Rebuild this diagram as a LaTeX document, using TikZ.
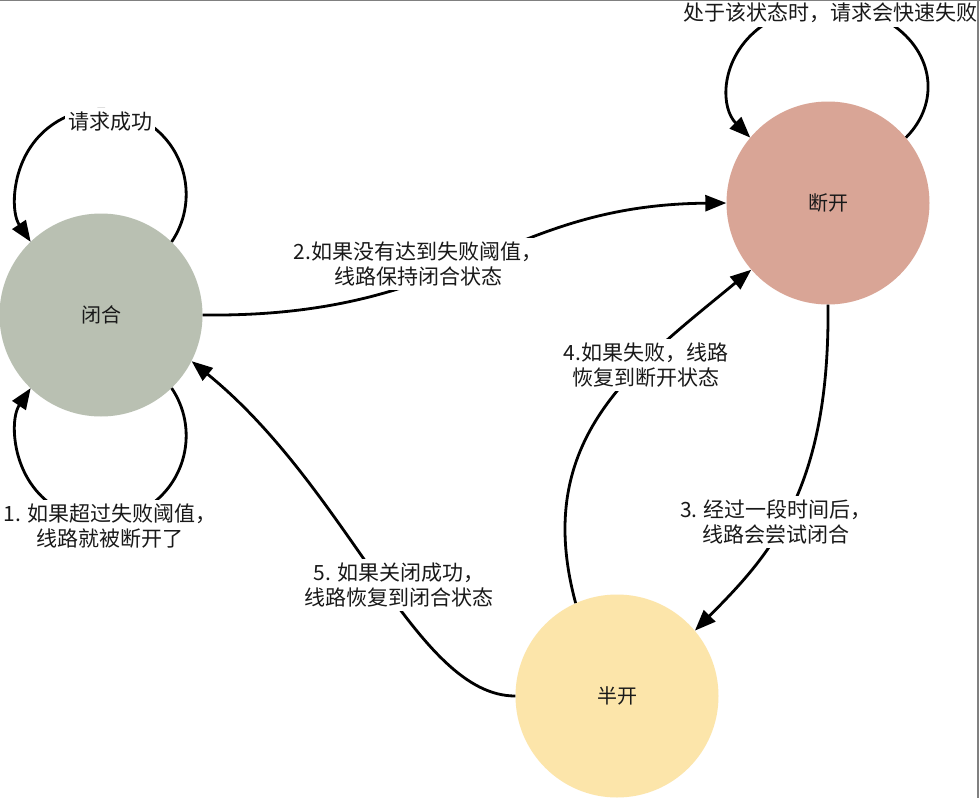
\documentclass[tikz,border=0pt]{standalone}
\usepackage{fontspec}
\setmainfont{Noto Sans CJK SC}
\usetikzlibrary{arrows.meta}
\definecolor{closedc}{RGB}{185,192,178}
\definecolor{openc}{RGB}{217,165,150}
\definecolor{halfc}{RGB}{252,229,170}
\definecolor{framec}{RGB}{128,128,128}
\definecolor{inkc}{RGB}{25,25,25}
\begin{document}
\begin{tikzpicture}[x=1pt,y=1pt,
  state/.style={circle, minimum size=203pt, inner sep=0pt, text=inkc, font=\fontsize{20}{24}\selectfont},
  lbl/.style={fill=white, align=center, inner xsep=3pt, inner ysep=4pt, text=inkc, font=\fontsize{21}{25}\selectfont},
  conn/.style={line width=2.8pt, draw=black, -{Triangle[length=21pt,width=16pt]}}]
\useasboundingbox (0,0) rectangle (980,-798);
\fill[white] (0,0) rectangle (980,-798);
% states
\node[state, fill=closedc] (closed) at (101,-315) {闭合};
\node[state, fill=openc] (open) at (828,-203) {断开};
\node[state, fill=halfc] (half) at (617,-696) {半开};
% connectors
\draw[conn] (closed.46) arc[start angle=-34, end angle=214, radius=85];
\draw[conn] (closed.-46) arc[start angle=34, end angle=-214, radius=85];
\draw[conn] (open.40) arc[start angle=-38.9, end angle=218.9, x radius=100, y radius=81];
\draw[conn] (closed.east) .. controls (460,-318) and (500,-205) .. (open.west);
\draw[conn] (open.south) .. controls (830,-490) and (770,-555) .. (half.40);
\draw[conn] (half.114) .. controls (531,-438) and (635,-366) .. (open.221);
\draw[conn] (half.west) .. controls (416,-696) and (350,-490) .. (closed.-27);
% labels
\node[lbl] (l0) at (110,-122) {请求成功};
\node[lbl] (l1) at (110,-526) {1. 如果超过失败阈值，\\线路就被断开了};
\node[lbl] (l2) at (418,-264) {2.如果没有达到失败阈值，\\线路保持闭合状态};
\node[lbl] (l3) at (776,-522) {3. 经过一段时间后，\\线路会尝试闭合};
\node[lbl] (l4) at (646,-365) {4.如果失败，线路\\恢复到断开状态};
\node[lbl] (l5) at (399,-585) {5. 如果关闭成功，\\线路恢复到闭合状态};
\node[lbl] (l6) at (830,-13) {处于该状态时，请求会快速失败};
% frame
\draw[framec, line width=1pt] (0,-0.5) -- (980,-0.5);
\draw[framec, line width=2pt] (978,0) -- (978,-798);
\end{tikzpicture}
\end{document}
